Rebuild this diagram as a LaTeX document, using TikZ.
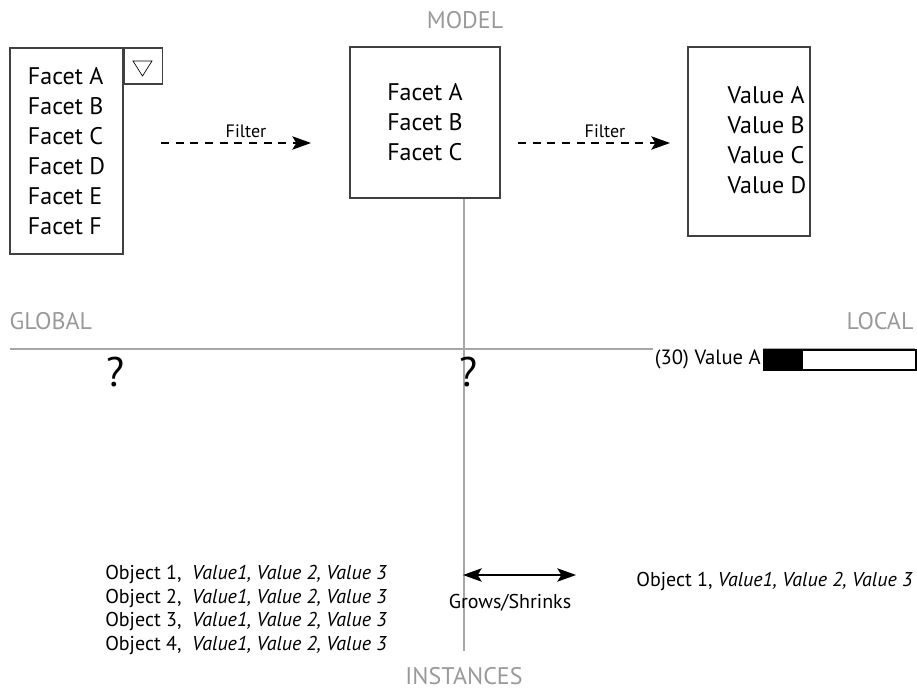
\documentclass[tikz,border=0pt]{standalone}
\usepackage{fontspec}
\setmainfont{PT Sans}
\usetikzlibrary{arrows.meta}

\begin{document}
\begin{tikzpicture}[%
        x = 0.75pt,
        y = -0.75pt,
        line cap = butt,
        > = {Stealth[length=14pt, width=10pt, inset=3pt]},
        box/.style = {draw = black!75, line width = 0.8pt, inner sep = 0pt},
        listtext/.style = {font = \fontsize{18}{22.5}\selectfont, align = left},
        axislabel/.style = {text = black!40, inner sep = 1pt,
            font = \fontsize{18}{21}\selectfont},
        filterarrow/.style = {->, line width = 1.3pt, dash pattern = on 6pt off 5pt},
        filterlabel/.style = {font = \fontsize{13.5}{16}\selectfont}
    ]

        \useasboundingbox (0, 0) rectangle (917, 691);

        % The two grey axes.
        \coordinate (west) at (10, 349);
        \coordinate (east) at (915, 349);
        \coordinate (south) at (464, 651);
        \draw[black!35, line width = 0.8pt] (west) to (east);

        % Boxes for the model part.
        \node[box, minimum width = 84.75pt, minimum height = 154.5pt,
            listtext] (facets) at (66.5, 151)
            {Facet A\\Facet B\\Facet C\\Facet D\\Facet E\\Facet F};
        \node[box, minimum width = 28.5pt, minimum height = 27pt,
            anchor = north west] (drop) at (facets.north east) {};
        \draw[line width = 0.5pt] (133, 61) -- (152, 61) -- (142.5, 76) -- cycle;

        \node[box, minimum width = 112.5pt, minimum height = 113.25pt,
            listtext] (chosen) at (425, 122.5)
            {Facet A\\Facet B\\Facet C};

        \node[box, minimum width = 91.5pt, minimum height = 141.75pt]
            (values) at (749, 141.5) {};
        \node[listtext, anchor = west] (valuelist) at (723, 140)
            {Value A\\Value B\\Value C\\Value D};

        \draw[black!35, line width = 0.8pt] (chosen.south -| south) to (south);

        % Filter arrows between the boxes.
        \coordinate (f1a) at (161, 143);
        \coordinate (f1b) at (311, 143);
        \coordinate (f2a) at (518, 143);
        \coordinate (f2b) at (670, 143);
        \draw[filterarrow] (f1a) to (f1b);
        \draw[filterarrow] (f2a) to (f2b);
        \node[filterlabel] (filter1) at (246, 131) {Filter};
        \node[filterlabel] (filter2) at (605, 131) {Filter};

        % Labels on the axes.
        \node[axislabel] (model) at (465, 20) {MODEL};
        \node[axislabel, anchor = west] (global) at (8, 321) {GLOBAL};
        \node[axislabel, anchor = east] (local) at (915, 321) {LOCAL};
        \node[axislabel] (instances) at (464, 676) {INSTANCES};

        % Open questions.
        \node[font = \fontsize{31}{34}\selectfont] (q1) at (116, 372) {?};
        \node[font = \fontsize{31}{34}\selectfont] (q2) at (469, 372) {?};

        % Bar with the count of value A.
        \node[box, draw = black, line width = 1.2pt, minimum width = 114pt,
            minimum height = 15pt, anchor = north west] (bar) at (763, 349) {};
        \fill[black] (bar.north west) rectangle (803, 369);
        \node[anchor = east, fill = white, inner sep = 1.5pt,
            font = \fontsize{15.5}{18}\selectfont] (barlabel) at (bar.west)
            {(30) Value A};

        % Instances listed in full and one at a time.
        \node[anchor = west, align = left, inner sep = 0pt,
            font = \fontsize{15}{17.8}\selectfont] (objects) at (105, 610)
            {Object 1,\ \ \textit{Value1, Value 2, Value 3}\\
             Object 2,\ \ \textit{Value1, Value 2, Value 3}\\
             Object 3,\ \ \textit{Value1, Value 2, Value 3}\\
             Object 4,\ \ \textit{Value1, Value 2, Value 3}};
        \node[anchor = east, inner sep = 0pt,
            font = \fontsize{15}{17.8}\selectfont] (single) at (913, 581)
            {Object 1, \textit{Value1, Value 2, Value 3}};

        % Size change of the list.
        \coordinate (g1) at (463, 575);
        \coordinate (g2) at (576, 575);
        \draw[<->, line width = 1.3pt] (g1) to (g2);
        \node[font = \fontsize{15}{18}\selectfont] (grows) at (510, 603)
            {Grows/Shrinks};
    \end{tikzpicture}
\end{document}
